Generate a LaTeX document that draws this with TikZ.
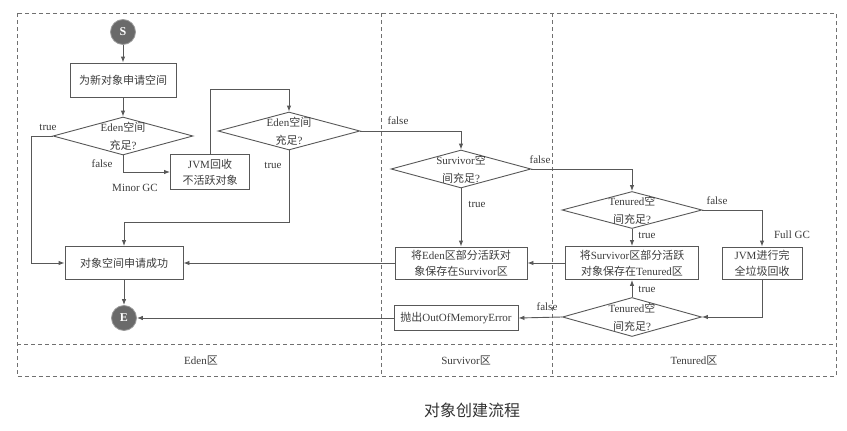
\documentclass[tikz,border=0pt]{standalone}
\usepackage{fontspec}
\setmainfont{Liberation Serif}
\newfontfamily\cjk{Noto Sans CJK SC}
\newcommand{\zh}[1]{{\cjk #1}}
\usetikzlibrary{arrows.meta,shapes.geometric}
\definecolor{ln}{HTML}{585858}
\definecolor{tx}{HTML}{3C3C3C}
\definecolor{dk}{HTML}{6A6A6A}
\definecolor{zone}{HTML}{707070}
\tikzset{
  every node/.style={text=tx, font=\fontsize{11}{16}\selectfont},
  box/.style={draw=ln, line width=0.9pt, rectangle, inner sep=0pt, align=center},
  dia/.style={draw=ln, line width=0.9pt, diamond, inner sep=0pt, align=center},
  dtext/.style={align=center, inner sep=0pt, font=\fontsize{11}{18}\selectfont},
  endpt/.style={circle, fill=dk, draw=ln!60, line width=0.8pt, minimum size=25pt, inner sep=0pt, text=white, font=\fontsize{12}{12}\selectfont\bfseries},
  arr/.style={draw=ln, line width=0.9pt, -{Latex[length=6pt,width=4.5pt]}},
  zoneline/.style={draw=zone, line width=0.8pt, dash pattern=on 4pt off 3pt},
  lbl/.style={inner sep=0pt}
}
\begin{document}
\begin{tikzpicture}[x=1pt,y=-1pt]
\useasboundingbox[fill=white] (0,0) rectangle (847,431);
% zones
\draw[zoneline] (17,13) rectangle (836,376);
\draw[zoneline] (17,344) -- (836,344);
\draw[zoneline] (381,13) -- (381,376);
\draw[zoneline] (552,13) -- (552,376);
\node[lbl] (zEden) at (201,360) {Eden\zh{区}};
\node[lbl] (zSurv) at (466,360) {Survivor\zh{区}};
\node[lbl] (zTen) at (694,360) {Tenured\zh{区}};
\node[lbl, font=\cjk\fontsize{16}{16}\selectfont, text=black!80] (cap) at (472,410) {对象创建流程};
% nodes
\node[endpt] (S) at (123,32) {S};
\node[box, minimum width=106pt, minimum height=34pt] (b1) at (123,80) {\zh{为新对象申请空间}};
\node[dia, minimum width=140pt, minimum height=38pt,
  label={[dtext]center:Eden\zh{空间}\\\zh{充足}?}] (d1) at (123,136) {};
\node[box, minimum width=79pt, minimum height=35pt] (jvm) at (210,172) {JVM\zh{回收}\\\zh{不活跃对象}};
\node[dia, minimum width=142pt, minimum height=38pt,
  label={[dtext]center:Eden\zh{空间}\\\zh{充足}?}] (d2) at (289,131) {};
\node[box, minimum width=118pt, minimum height=33pt] (ok) at (124,263) {\zh{对象空间申请成功}};
\node[endpt] (E) at (124,318) {E};
\node[dia, minimum width=140pt, minimum height=38pt,
  label={[dtext]center:Survivor\zh{空}\\\zh{间充足}?}] (sv) at (461,169) {};
\node[box, minimum width=132pt, minimum height=32pt] (sb) at (461,263) {\zh{将}Eden\zh{区部分活跃对}\\\zh{象保存在}Survivor\zh{区}};
\node[dia, minimum width=140pt, minimum height=37pt,
  label={[dtext]center:Tenured\zh{空}\\\zh{间充足}?}] (t1) at (632,210) {};
\node[box, minimum width=133pt, minimum height=33pt] (tb) at (632,263) {\zh{将}Survivor\zh{区部分活跃}\\\zh{对象保存在}Tenured\zh{区}};
\node[box, minimum width=80pt, minimum height=32pt] (full) at (762,263) {JVM\zh{进行完}\\\zh{全垃圾回收}};
\node[dia, minimum width=139pt, minimum height=39pt,
  label={[dtext]center:Tenured\zh{空}\\\zh{间充足}?}] (t2) at (632,317) {};
\node[box, minimum width=124pt, minimum height=25pt] (oom) at (456,318) {\zh{抛出}OutOfMemoryError};
% helper coordinates
\coordinate (c1) at (289,89);
\coordinate (c2) at (289,222);
\coordinate (c3) at (31,136);
% connectors
\draw[arr] (S) -- (b1);
\draw[arr] (b1) -- (d1);
\draw[arr] (d1.west) -- (c3) |- (ok.west);
\draw[arr] (d1.south) |- (jvm.west);
\draw[arr] (jvm.north) |- (c1) -- (d2.north);
\draw[arr] (d2.south) -- (c2) -| (ok.north);
\draw[arr] (d2.east) -| (sv.north);
\draw[arr] (sv.south) -- (sb.north);
\draw[arr] (sv.east) -| (t1.north);
\draw[arr] (sb.west) -- (ok.east);
\draw[arr] (t1.east) -| (full.north);
\draw[arr] (t1.south) -- (tb.north);
\draw[arr] (tb.west) -- (sb.east);
\draw[arr] (full.south) |- (t2.east);
\draw[arr] (t2.north) -- (tb.south);
\draw[arr] (t2.west) -- (oom.east);
\draw[arr] (oom.west) -- (E.east);
\draw[arr] (ok.south) -- (E.north);
% edge labels
\node[lbl] (l1) at (48,127) {true};
\node[lbl] (l2) at (102,164) {false};
\node[lbl] (l3) at (135,188) {Minor GC};
\node[lbl] (l4) at (273,165) {true};
\node[lbl] (l5) at (398,121) {false};
\node[lbl] (l6) at (540,160) {false};
\node[lbl] (l7) at (477,204) {true};
\node[lbl] (l8) at (717,201) {false};
\node[lbl] (l9) at (792,235) {Full GC};
\node[lbl] (l10) at (647,235) {true};
\node[lbl] (l11) at (647,289) {true};
\node[lbl] (l12) at (547,307) {false};
\end{tikzpicture}
\end{document}
